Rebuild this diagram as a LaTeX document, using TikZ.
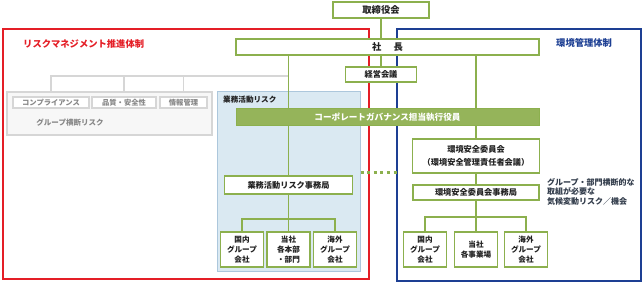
\documentclass[tikz,border=0pt]{standalone}
\usepackage{fontspec}
\setmainfont{Noto Sans CJK JP}
\usetikzlibrary{calc}
\pgfdeclarelayer{back}
\pgfdeclarelayer{conn}
\pgfsetlayers{back,conn,main}
\definecolor{rd}{RGB}{228,30,38}
\definecolor{bl}{RGB}{29,63,147}
\definecolor{grn}{RGB}{140,176,78}
\definecolor{barfill}{RGB}{149,180,90}
\definecolor{lbfill}{RGB}{218,233,242}
\definecolor{lbdraw}{RGB}{172,199,220}
\definecolor{gyline}{RGB}{214,214,214}
\definecolor{gyfill}{RGB}{247,247,247}
\definecolor{gytext}{RGB}{135,135,135}
\definecolor{txt}{RGB}{34,34,34}
\definecolor{sidetxt}{RGB}{50,60,75}
\begin{document}
\begin{tikzpicture}[x=1pt,y=-1pt,
  gbox/.style={draw=grn, line width=1.8pt, fill=white, inner sep=0pt, text=txt, align=center,
    font=\bfseries\fontsize{8.2}{10}\selectfont},
  smallbox/.style={gbox, minimum width=43pt, minimum height=35pt, font=\bfseries\fontsize{7.6}{10}\selectfont},
  barbox/.style={draw=grn, line width=1pt, fill=barfill, inner sep=0pt, text=white,
    font=\bfseries\fontsize{8.6}{10}\selectfont},
  gl/.style={draw=grn, line width=1.8pt},
  grl/.style={draw=gyline, line width=1.4pt},
  gybox/.style={draw=gyline, line width=1.2pt, fill=white, inner sep=0pt, text=gytext,
    font=\bfseries\fontsize{7.3}{9}\selectfont},
  dotg/.style={draw=grn, line width=3pt, dash pattern=on 3pt off 3.6pt},
  frame/.style={line width=1.8pt}
]
\useasboundingbox (0,0) rectangle (643,283);

% ---------- back layer: frames and panels
\begin{pgfonlayer}{back}
  \draw[frame, draw=rd] (3,29) rectangle (369,279);
  \draw[frame, draw=bl] (397,29) rectangle (641,281);
  \node[draw=lbdraw, line width=1pt, fill=lbfill, minimum width=143pt, minimum height=180pt, inner sep=0pt]
    (lb) at (288.5,182) {};
  \node[draw=gyline, line width=1.2pt, fill=gyfill, minimum width=205pt, minimum height=43pt, inner sep=0pt]
    (gbig) at (109.5,113.5) {};
\end{pgfonlayer}

% ---------- titles
\node[anchor=west, text=rd, font=\bfseries\fontsize{9.3}{11}\selectfont, inner sep=0pt]
  (tred) at (23,44) {リスクマネジメント推進体制};
\node[anchor=west, text=bl, font=\bfseries\fontsize{9.3}{11}\selectfont, inner sep=0pt]
  (tblue) at (556,43) {環境管理体制};
\node[anchor=west, text=txt, font=\bfseries\fontsize{7.6}{9}\selectfont, inner sep=0pt]
  (tlb) at (223,100) {業務活動リスク};
\node[anchor=center, text=gytext, font=\bfseries\fontsize{7.5}{9}\selectfont, inner sep=0pt]
  (tgray) at (70,123) {グループ横断リスク};
\node[anchor=north west, text=sidetxt, align=left, font=\bfseries\fontsize{8}{9.6}\selectfont, inner sep=0pt]
  (side) at (547,178) {グループ・部門横断的な\\取組が必要な\\気候変動リスク／機会};

% ---------- main boxes
\node[gbox, minimum width=96pt, minimum height=16pt, font=\bfseries\fontsize{9.3}{11}\selectfont]
  (tori) at (381,10) {取締役会};
\node[gbox, minimum width=303pt, minimum height=16pt, font=\bfseries\fontsize{9.3}{11}\selectfont]
  (shacho) at (387.5,47) {社\hspace{1.3em}長};
\node[gbox, minimum width=71pt, minimum height=15pt]
  (keiei) at (381,74.5) {経営会議};
\node[barbox, minimum width=303pt, minimum height=17pt]
  (cg) at (387.5,117.5) {コーポレートガバナンス担当執行役員};
\node[gbox, minimum width=128pt, minimum height=18pt]
  (gj) at (288.5,185) {業務活動リスク事務局};
\node[gbox, minimum width=127pt, minimum height=34pt, font=\bfseries\fontsize{8.2}{13}\selectfont]
  (ki) at (476,156) {環境安全委員会\\（環境安全管理責任者会議）};
\node[gbox, minimum width=126pt, minimum height=15pt]
  (kj) at (476,192.5) {環境安全委員会事務局};

% bottom left
\node[smallbox] (l1) at (242,249.5) {国内\\グループ\\会社};
\node[smallbox] (l2) at (288.5,249.5) {当社\\各本部\\・部門};
\node[smallbox] (l3) at (335,249.5) {海外\\グループ\\会社};
% bottom right
\node[smallbox] (r1) at (425,249.5) {国内\\グループ\\会社};
\node[smallbox] (r2) at (476,249.5) {当社\\各事業場};
\node[smallbox] (r3) at (526,249.5) {海外\\グループ\\会社};

% gray boxes
\node[gybox, minimum width=76pt, minimum height=11pt] (s1) at (51,102.5) {コンプライアンス};
\node[gybox, minimum width=64pt, minimum height=11pt] (s2) at (124,102.5) {品質・安全性};
\node[gybox, minimum width=47pt, minimum height=11pt] (s3) at (183.5,102.5) {情報管理};

% ---------- connectors
\coordinate (xa) at (288.5,0);
\coordinate (gy) at (288.5,76);
\coordinate (bL) at (288.5,219);
\coordinate (bR) at (476,217);
\coordinate (d1) at (360.5,173);
\coordinate (d2) at (397,173);
\begin{pgfonlayer}{conn}
  \draw[gl] (tori.south) -- (tori.south |- shacho.north);
  \draw[gl] (keiei.north) -- (keiei.north |- shacho.south);
  \draw[gl] (shacho.south -| xa) -- (cg.north -| xa);
  \draw[gl] (cg.south -| xa) -- (gj.north);
  \draw[gl] (gj.south) -- (bL);
  \draw[gl] (l1.north) |- (bL) -| (l3.north);
  \draw[gl] (l2.north) -- (bL);
  \draw[gl] (shacho.south -| ki.north) -- (cg.north -| ki.north);
  \draw[gl] (cg.south -| ki.north) -- (ki.north);
  \draw[gl] (ki.south) -- (kj.north);
  \draw[gl] (kj.south) -- (bR);
  \draw[gl] (r1.north) |- (bR) -| (r3.north);
  \draw[gl] (r2.north) -- (bR);
  \draw[dotg] (d1) -- (d2);
\end{pgfonlayer}
\begin{pgfonlayer}{back}
  \draw[grl] (s1.north |- gbig.north) |- (gy);
  \draw[grl] (s2.north |- gbig.north) -- (s2.north |- gy);
  \draw[grl] (s3.north |- gbig.north) -- (s3.north |- gy);
\end{pgfonlayer}
\end{tikzpicture}
\end{document}
